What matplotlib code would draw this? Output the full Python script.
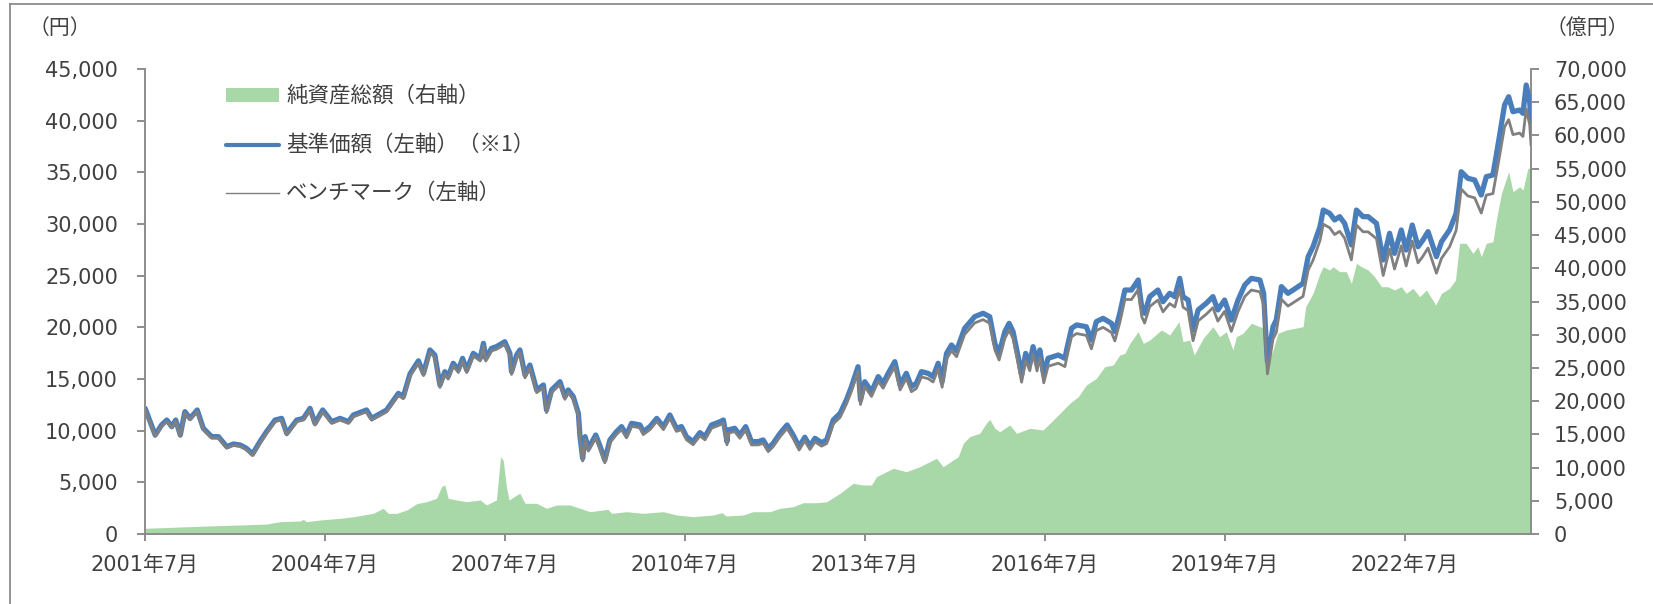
import matplotlib
matplotlib.use("Agg")
import matplotlib.pyplot as plt
from matplotlib.lines import Line2D
from matplotlib.patches import Rectangle
from matplotlib.ticker import FuncFormatter, MultipleLocator
import pandas as pd

plt.rcParams["font.family"] = ["DejaVu Sans", "Noto Sans CJK JP"]

# ---- data -------------------------------------------------------------
nav_dates = [
    "2001-07-02", "2001-09-01", "2001-10-10", "2001-11-11", "2001-12-11", "2002-01-04",
    "2002-02-01", "2002-03-01", "2002-04-01", "2002-05-15", "2002-06-21", "2002-08-11",
    "2002-09-21", "2002-11-11", "2002-12-21", "2003-02-01", "2003-03-11", "2003-04-17",
    "2003-06-01", "2003-07-11", "2003-09-01", "2003-10-11", "2003-11-11", "2004-01-11",
    "2004-02-21", "2004-04-01", "2004-05-01", "2004-06-17", "2004-08-11", "2004-10-01",
    "2004-11-21", "2004-12-21", "2005-03-11", "2005-04-11", "2005-07-11", "2005-09-21",
    "2005-10-21", "2005-12-01", "2006-01-21", "2006-02-21", "2006-04-01", "2006-05-01",
    "2006-06-01", "2006-07-01", "2006-07-21", "2006-08-21", "2006-09-21", "2006-10-17",
    "2006-11-11", "2006-12-21", "2007-02-01", "2007-02-21", "2007-03-07", "2007-04-11",
    "2007-05-11", "2007-07-01", "2007-08-01", "2007-08-11", "2007-09-11", "2007-10-01",
    "2007-11-01", "2007-12-01", "2008-01-11", "2008-02-21", "2008-03-11", "2008-04-11",
    "2008-06-01", "2008-07-01", "2008-07-21", "2008-08-21", "2008-09-21", "2008-10-01",
    "2008-10-17", "2008-11-01", "2008-11-21", "2009-01-05", "2009-02-01", "2009-03-01",
    "2009-04-01", "2009-05-11", "2009-06-11", "2009-07-11", "2009-08-11", "2009-10-01",
    "2009-10-21", "2009-12-01", "2010-01-11", "2010-02-21", "2010-04-01", "2010-05-11",
    "2010-06-11", "2010-07-11", "2010-08-21", "2010-10-01", "2010-11-01", "2010-12-11",
    "2011-02-01", "2011-02-21", "2011-03-15", "2011-03-21", "2011-05-01", "2011-06-01",
    "2011-07-07", "2011-08-11", "2011-09-21", "2011-10-21", "2011-11-21", "2011-12-21",
    "2012-02-01", "2012-03-15", "2012-04-21", "2012-05-27", "2012-07-01", "2012-08-01",
    "2012-09-01", "2012-10-11", "2012-11-11", "2012-12-21", "2013-02-01", "2013-03-11",
    "2013-04-11", "2013-05-21", "2013-06-05", "2013-07-01", "2013-08-11", "2013-09-21",
    "2013-10-21", "2013-11-21", "2013-12-31", "2014-02-01", "2014-03-11", "2014-04-11",
    "2014-05-11", "2014-06-11", "2014-07-21", "2014-08-21", "2014-09-21", "2014-10-15",
    "2014-11-11", "2014-12-11", "2015-01-11", "2015-03-01", "2015-05-01", "2015-06-21",
    "2015-08-01", "2015-09-01", "2015-09-27", "2015-11-01", "2015-11-27", "2015-12-21",
    "2016-01-21", "2016-02-11", "2016-03-07", "2016-04-01", "2016-04-21", "2016-05-15",
    "2016-06-01", "2016-06-25", "2016-07-21", "2016-08-21", "2016-09-21", "2016-11-01",
    "2016-11-11", "2016-12-11", "2017-01-11", "2017-03-11", "2017-04-11", "2017-05-11",
    "2017-06-21", "2017-08-11", "2017-09-01", "2017-10-01", "2017-11-01", "2017-12-11",
    "2018-01-21", "2018-02-11", "2018-03-01", "2018-04-01", "2018-05-21", "2018-06-21",
    "2018-08-01", "2018-09-01", "2018-10-01", "2018-10-21", "2018-11-21", "2018-12-21",
    "2019-01-21", "2019-03-11", "2019-04-21", "2019-05-21", "2019-07-01", "2019-08-11",
    "2019-09-21", "2019-11-01", "2019-12-11", "2020-02-01", "2020-02-24", "2020-03-11",
    "2020-03-18", "2020-04-21", "2020-05-11", "2020-06-11", "2020-07-21", "2020-08-21",
    "2020-10-21", "2020-11-21", "2020-12-21", "2021-02-01", "2021-02-21", "2021-04-01",
    "2021-05-01", "2021-06-01", "2021-07-01", "2021-08-11", "2021-09-11", "2021-10-21",
    "2021-11-21", "2022-01-11", "2022-02-21", "2022-04-01", "2022-05-01", "2022-06-11",
    "2022-07-11", "2022-08-17", "2022-09-21", "2022-10-21", "2022-11-21", "2023-01-11",
    "2023-02-11", "2023-04-01", "2023-05-11", "2023-06-11", "2023-07-21", "2023-09-01",
    "2023-10-11", "2023-11-11", "2023-12-21", "2024-01-21", "2024-03-01", "2024-03-26",
    "2024-04-21", "2024-06-01", "2024-06-21", "2024-07-11", "2024-08-01", "2024-08-09",
]

# 基準価額 (円)
nav = [
    12150, 9580, 10550, 11030, 10390, 11030, 9580, 11840, 11190, 12000, 10230, 9420,
    9420, 8450, 8710, 8610, 8290, 7740, 8940, 9900, 11030, 11190, 9740, 11030,
    11190, 12160, 10710, 12000, 10870, 11190, 10870, 11520, 12000, 11190, 12000, 13610,
    13290, 15500, 16760, 15550, 17810, 17320, 14420, 15710, 15230, 16520, 15870, 17000,
    15870, 17480, 17000, 18450, 17000, 17970, 18130, 18610, 17480, 15710, 17320, 17810,
    15390, 16350, 13940, 14420, 12000, 13940, 14740, 13290, 13940, 13290, 11680, 9420,
    7320, 9420, 8290, 9580, 8450, 7160, 9100, 9900, 10390, 9580, 10710, 10550,
    9900, 10390, 11190, 10390, 11520, 10230, 10390, 9420, 8940, 9810, 9420, 10550,
    10870, 11030, 8940, 10060, 10230, 9580, 10390, 8940, 8940, 9100, 8290, 8770,
    9740, 10550, 9580, 8450, 9360, 8520, 9260, 8840, 9100, 11030, 11680, 12970,
    14260, 16190, 12970, 14740, 13770, 15230, 14580, 15550, 16680, 14420, 15550, 14260,
    14580, 15710, 15550, 15230, 16520, 14740, 17480, 18290, 17730, 19900, 21030, 21360,
    21030, 18450, 17480, 19580, 20390, 19580, 17160, 15390, 17480, 16520, 18130, 16520,
    17810, 15390, 17000, 17160, 17320, 17000, 17810, 19900, 20230, 20060, 18770, 20550,
    20870, 20390, 19580, 21360, 23610, 23610, 24580, 22000, 21360, 22970, 23610, 22480,
    23290, 22970, 24740, 22970, 22640, 19740, 21680, 22320, 22970, 21680, 22640, 20710,
    22640, 24100, 24740, 24580, 23290, 18450, 16700, 20060, 20710, 23940, 23290, 23610,
    24260, 26840, 27810, 29740, 31350, 31030, 30390, 30710, 30060, 27970, 31350, 30710,
    30710, 30060, 26520, 29100, 27160, 29420, 27480, 29900, 27800, 28450, 29260, 26840,
    28290, 29420, 31030, 35060, 34420, 34260, 32810, 34580, 34740, 37640, 41520, 42320,
    40870, 41030, 40710, 43450, 41840, 39900,
]

# ベンチマーク (円)
bench = [
    12050, 9450, 10420, 10900, 10260, 10900, 9450, 11700, 11050, 11860, 10090, 9280,
    9270, 8310, 8570, 8470, 8140, 7590, 8790, 9750, 10870, 11030, 9580, 10870,
    11030, 11990, 10540, 11830, 10700, 11020, 10700, 11340, 11820, 11010, 11810, 13410,
    13090, 15290, 16540, 15330, 17580, 17090, 14190, 15470, 14990, 16280, 15630, 16760,
    15620, 17230, 16750, 18200, 16740, 17710, 17870, 18340, 17210, 15440, 17050, 17540,
    15120, 16080, 13680, 14160, 11740, 13680, 14470, 13030, 13670, 13020, 11410, 9160,
    7060, 9150, 8020, 9310, 8180, 6890, 8830, 9630, 10110, 9300, 10430, 10270,
    9620, 10100, 10900, 10100, 11220, 9930, 10090, 9120, 8640, 9500, 9110, 10240,
    10560, 10720, 8630, 9750, 9920, 9270, 10070, 8620, 8620, 8780, 7970, 8450,
    9410, 10220, 9250, 8120, 9020, 8180, 8920, 8500, 8750, 10660, 11290, 12570,
    13840, 15750, 12530, 14290, 13310, 14770, 14110, 15080, 16200, 13940, 15060, 13770,
    14080, 15200, 15040, 14710, 15990, 14200, 16930, 17730, 17160, 19310, 20420, 20740,
    20400, 17820, 16840, 18930, 19730, 18910, 16470, 14690, 16770, 15800, 17400, 15780,
    17060, 14630, 16230, 16380, 16530, 16200, 17000, 19080, 19400, 19220, 17920, 19690,
    20000, 19510, 18690, 20460, 22700, 22690, 23650, 21060, 20410, 22010, 22640, 21500,
    22300, 21970, 23730, 21950, 21610, 18700, 20630, 21260, 21900, 20600, 21550, 19610,
    21530, 22980, 23610, 23440, 22140, 17290, 15500, 18870, 19510, 22720, 22060, 22370,
    23000, 25550, 26500, 28400, 29980, 29640, 28980, 29290, 28630, 26530, 29900, 29250,
    29240, 28580, 25020, 27590, 25640, 27890, 25940, 28350, 26240, 26880, 27680, 25240,
    26680, 27790, 29380, 33380, 32720, 32530, 31060, 32800, 32940, 35700, 39400, 40100,
    38650, 38800, 38470, 41150, 39600, 37700,
]

asset_dates = [
    "2001-07-02", "2002-07-11", "2003-02-01", "2003-07-11", "2003-10-01", "2004-02-01",
    "2004-02-21", "2004-03-11", "2004-06-01", "2004-10-01", "2004-12-21", "2005-04-21",
    "2005-06-21", "2005-07-21", "2005-09-11", "2005-11-11", "2006-01-11", "2006-03-11",
    "2006-05-11", "2006-06-11", "2006-07-01", "2006-07-21", "2006-09-11", "2006-11-11",
    "2007-02-01", "2007-03-11", "2007-05-11", "2007-06-05", "2007-06-21", "2007-07-11",
    "2007-07-27", "2007-09-11", "2007-10-01", "2007-11-01", "2008-01-11", "2008-03-11",
    "2008-05-11", "2008-08-01", "2008-10-01", "2008-12-01", "2009-03-21", "2009-04-11",
    "2009-07-11", "2009-10-21", "2010-02-21", "2010-05-11", "2010-08-21", "2010-12-21",
    "2011-02-11", "2011-03-11", "2011-06-21", "2011-08-21", "2011-12-01", "2012-02-01",
    "2012-04-21", "2012-06-21", "2012-09-11", "2012-11-11", "2013-02-01", "2013-04-21",
    "2013-06-21", "2013-08-11", "2013-09-11", "2013-12-21", "2014-03-11", "2014-06-01",
    "2014-09-11", "2014-10-21", "2015-01-21", "2015-02-21", "2015-04-01", "2015-06-01",
    "2015-07-11", "2015-08-01", "2015-09-01", "2015-10-01", "2015-12-01", "2016-01-11",
    "2016-04-01", "2016-06-21", "2016-08-01", "2016-10-01", "2016-12-01", "2017-01-21",
    "2017-03-11", "2017-05-11", "2017-07-01", "2017-08-21", "2017-10-01", "2017-11-01",
    "2017-12-01", "2018-01-21", "2018-02-21", "2018-04-01", "2018-06-11", "2018-08-01",
    "2018-09-26", "2018-10-21", "2018-12-01", "2018-12-28", "2019-02-21", "2019-04-21",
    "2019-06-01", "2019-07-11", "2019-08-21", "2019-09-11", "2019-10-21", "2019-12-11",
    "2020-02-01", "2020-03-01", "2020-03-21", "2020-04-21", "2020-05-21", "2020-07-11",
    "2020-10-21", "2020-11-06", "2020-12-21", "2021-02-01", "2021-02-21", "2021-04-01",
    "2021-04-21", "2021-06-01", "2021-07-11", "2021-08-11", "2021-09-11", "2021-10-11",
    "2021-11-21", "2021-12-30", "2022-02-11", "2022-03-21", "2022-05-01", "2022-06-11",
    "2022-07-11", "2022-08-21", "2022-10-01", "2022-11-11", "2023-01-07", "2023-02-11",
    "2023-04-01", "2023-05-07", "2023-06-01", "2023-07-11", "2023-08-21", "2023-09-21",
    "2023-10-11", "2023-11-11", "2023-12-21", "2024-01-11", "2024-02-11", "2024-03-26",
    "2024-04-21", "2024-06-01", "2024-06-21", "2024-07-21", "2024-08-09",
]

# 純資産総額 (億円)
net_assets = [
    860, 1200, 1360, 1500, 1850, 1960, 2210, 1850, 2110, 2360, 2600, 3110,
    3870, 3110, 3110, 3610, 4570, 4860, 5370, 7120, 7380, 5370, 5120, 4860,
    5120, 4370, 5120, 11640, 11140, 7120, 5120, 5870, 6130, 4620, 4620, 3870,
    4370, 4370, 3870, 3360, 3720, 3110, 3360, 3110, 3360, 2860, 2610, 2860,
    3210, 2710, 2860, 3360, 3360, 3870, 4110, 4710, 4710, 4860, 6130, 7630,
    7380, 7380, 8630, 9890, 9380, 10130, 11400, 10130, 11640, 13650, 14660, 15160,
    16660, 17270, 15910, 15400, 16410, 15160, 15910, 15660, 16660, 18170, 19680, 20670,
    22430, 23430, 25190, 25440, 26950, 27200, 28710, 30460, 28710, 29200, 30710, 29960,
    31960, 28950, 29200, 26950, 29460, 31210, 29700, 30460, 27700, 29700, 30210, 31720,
    31210, 30960, 25700, 27700, 30210, 30710, 31210, 34220, 36240, 39250, 40240, 39740,
    40240, 39490, 39490, 37740, 40750, 40240, 39740, 38740, 37230, 37230, 36730, 37230,
    36230, 36990, 35720, 36730, 34470, 36230, 36990, 38240, 43760, 43760, 42260, 43250,
    41750, 43760, 44000, 47270, 51290, 54540, 51530, 52280, 51790, 55060, 55000,
]

tick_years = [2001, 2004, 2007, 2010, 2013, 2016, 2019, 2022]
tick_labels = [f"{y}年7月" for y in tick_years]

legend_labels = ["純資産総額（右軸）", "基準価額（左軸）（※1）", "ベンチマーク（左軸）"]

# ---- styling ----------------------------------------------------------
GREEN = "#A9D8A8"
BLUE = "#4A7EBB"
GRAY = "#808080"
AXIS = "#8C8C8C"
TEXT = "#404040"
FS = 15
CJK = ["Noto Sans CJK JP", "DejaVu Sans"]

W, H = 1653, 604
fig = plt.figure(figsize=(W / 100, H / 100), dpi=100)
fig.patch.set_facecolor("white")

ax = fig.add_axes([145 / W, (H - 534) / H, 1386 / W, 465 / H])
ax2 = ax.twinx()

nav_x = pd.to_datetime(nav_dates)
asset_x = pd.to_datetime(asset_dates)

# net assets as a filled area on the right axis, price lines above it
ax2.fill_between(asset_x, net_assets, 0, color=GREEN, lw=0)
ax.set_zorder(ax2.get_zorder() + 1)
ax.patch.set_visible(False)

ax.plot(nav_x, nav, color=BLUE, lw=3.8, solid_joinstyle="round", solid_capstyle="round")
ax.plot(nav_x, bench, color=GRAY, lw=2.0, solid_joinstyle="round")

ax.set_xlim(pd.Timestamp("2001-07-01"), pd.Timestamp("2024-08-09"))
ax.set_ylim(0, 45000)
ax2.set_ylim(0, 70000)
ax.yaxis.set_major_locator(MultipleLocator(5000))
ax2.yaxis.set_major_locator(MultipleLocator(5000))
fmt = FuncFormatter(lambda v, p: f"{int(v):,}")
ax.yaxis.set_major_formatter(fmt)
ax2.yaxis.set_major_formatter(fmt)

ax.set_xticks([pd.Timestamp(f"{y}-07-01") for y in tick_years])
ax.set_xticklabels(tick_labels)

for a in (ax, ax2):
    for s in a.spines.values():
        s.set_color(AXIS)
        s.set_linewidth(1.4)
    a.spines["top"].set_visible(False)
ax.spines["right"].set_visible(False)
ax2.spines["left"].set_visible(False)
ax2.spines["bottom"].set_visible(False)

ax.tick_params(axis="y", direction="out", length=5.5, width=1.4, color=AXIS,
               labelcolor=TEXT, labelsize=FS, pad=14)
ax.tick_params(axis="x", direction="out", length=5, width=1.4, color=AXIS,
               labelcolor=TEXT, labelsize=FS, pad=10)
ax2.tick_params(axis="y", direction="out", length=5.5, width=1.4, color=AXIS,
                labelcolor=TEXT, labelsize=FS, pad=11)

# unit labels
fig.text(60 / W, 1 - 28 / H, "（円）", ha="center", va="center", fontsize=15,
         color=TEXT, family=CJK)
fig.text(1587 / W, 1 - 28 / H, "（億円）", ha="center", va="center", fontsize=15,
         color=TEXT, family=CJK)

# legend
lx0, lx1 = 226 / W, 279 / W
fig.add_artist(Rectangle((lx0, 1 - 102 / H), lx1 - lx0, 14 / H,
                         transform=fig.transFigure, facecolor=GREEN, edgecolor="none"))
fig.add_artist(Line2D([lx0, lx1], [1 - 145 / H] * 2, transform=fig.transFigure,
                      color=BLUE, lw=3, solid_capstyle="round"))
fig.add_artist(Line2D([lx0, lx1], [1 - 193 / H] * 2, transform=fig.transFigure,
                      color=GRAY, lw=1.0))
for yy, lab in zip([96, 145, 193], legend_labels):
    fig.text(286 / W, 1 - yy / H, lab, ha="left", va="center", fontsize=15.5,
             color=TEXT, family=CJK)

# outer frame (left and top edges)
fig.add_artist(Line2D([10 / W, 10 / W], [0, 1 - 4 / H], transform=fig.transFigure,
                      color=AXIS, lw=1.3))
fig.add_artist(Line2D([10 / W, 1], [1 - 4 / H, 1 - 4 / H], transform=fig.transFigure,
                      color=AXIS, lw=1.3))

fig.savefig("out.png", dpi=100, facecolor="white")
